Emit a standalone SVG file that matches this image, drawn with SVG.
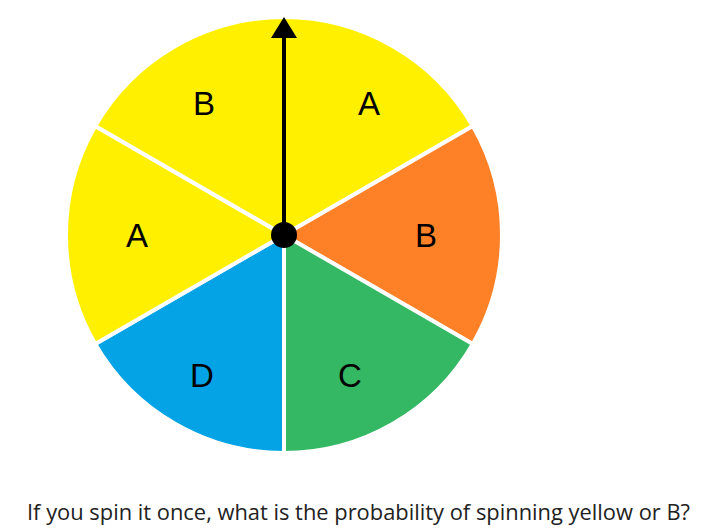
<svg xmlns="http://www.w3.org/2000/svg" width="715" height="532" viewBox="0 0 715 532">
<style>
.sec{stroke:#fff;stroke-width:4;stroke-linejoin:round}
.lbl{font-family:"Liberation Sans",Arial,sans-serif;font-size:33px;fill:#000;text-anchor:middle;dominant-baseline:central}
.cap{font-family:"Source Sans Pro","Open Sans","Noto Sans",sans-serif;font-size:22px;fill:#222}
</style>
<rect width="715" height="532" fill="#fff"/>
<g id="wheel">
<g id="sector-A1"><path class="sec" d="M284,235 L284,17 A218,218 0 0 1 472.8,126 Z" fill="#FFF000"/><text class="lbl" x="369" y="103">A</text></g>
<g id="sector-B1"><path class="sec" d="M284,235 L472.8,126 A218,218 0 0 1 472.8,344 Z" fill="#FF8127"/><text class="lbl" x="426" y="235">B</text></g>
<g id="sector-C"><path class="sec" d="M284,235 L472.8,344 A218,218 0 0 1 284,453 Z" fill="#34B864"/><text class="lbl" x="350" y="375">C</text></g>
<g id="sector-D"><path class="sec" d="M284,235 L284,453 A218,218 0 0 1 95.2,344 Z" fill="#03A3E5"/><text class="lbl" x="202" y="375">D</text></g>
<g id="sector-A2"><path class="sec" d="M284,235 L95.2,344 A218,218 0 0 1 95.2,126 Z" fill="#FFF000"/><text class="lbl" x="137" y="235">A</text></g>
<g id="sector-B2"><path class="sec" d="M284,235 L95.2,126 A218,218 0 0 1 284,17 Z" fill="#FFF000"/><text class="lbl" x="204" y="103">B</text></g>
</g>
<g id="pointer">
<line x1="284" y1="235" x2="284" y2="38" stroke="#000" stroke-width="4"/>
<path d="M284,17 L297,38 L271,38 Z" fill="#000"/>
<circle cx="284" cy="235" r="13" fill="#000"/>
</g>
<g id="caption"><text class="cap" x="27" y="520" textLength="663" lengthAdjust="spacingAndGlyphs">If you spin it once, what is the probability of spinning yellow or B?</text></g>
</svg>
